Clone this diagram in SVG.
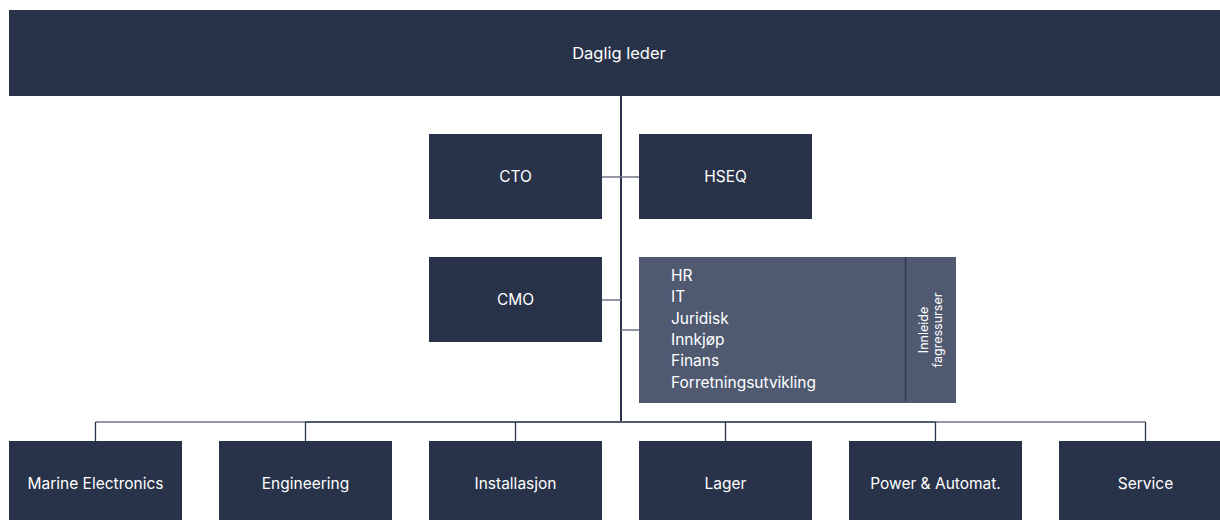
<svg xmlns="http://www.w3.org/2000/svg" width="1220" height="520" viewBox="0 0 1220 520">
<style>
.box{fill:#283249}
.sup{fill:#4f5a71}
.t{font-family:Inter,"Liberation Sans",sans-serif;font-size:15.5px;fill:#ffffff;text-anchor:middle;dominant-baseline:central}
.l{font-family:Inter,"Liberation Sans",sans-serif;font-size:15.5px;fill:#ffffff}
.r{font-family:Inter,"Liberation Sans",sans-serif;font-size:12.5px;fill:#ffffff;text-anchor:middle}
.main{stroke:#283249;stroke-width:2;fill:none}
.br{stroke:#6e7584;stroke-width:1.5;fill:none}
.drop{stroke:#283249;stroke-width:1.3;fill:none}
</style>
<rect width="1220" height="520" fill="#ffffff"/>
<g id="connectors">
<line class="main" x1="621" y1="96" x2="621" y2="421"/>
<line class="br" x1="602" y1="177" x2="639" y2="177"/>
<line class="br" x1="602" y1="300" x2="621" y2="300"/>
<line class="br" x1="621" y1="330" x2="639" y2="330"/>
<line class="br" x1="95.5" y1="422" x2="1145.5" y2="422"/>
<line x1="305.5" y1="422" x2="935.5" y2="422" stroke="#3e4659" stroke-width="1.5"/>
<line class="drop" x1="95.5" y1="422" x2="95.5" y2="441"/>
<line class="drop" x1="305.5" y1="422" x2="305.5" y2="441"/>
<line class="drop" x1="515.5" y1="422" x2="515.5" y2="441"/>
<line class="drop" x1="725.5" y1="422" x2="725.5" y2="441"/>
<line class="drop" x1="935.5" y1="422" x2="935.5" y2="441"/>
<line class="drop" x1="1145.5" y1="422" x2="1145.5" y2="441"/>
</g>
<g id="daglig-leder"><rect class="box" x="9" y="10" width="1220" height="86"/><text class="t" x="619" y="53" style="font-size:16.5px">Daglig leder</text></g>
<g id="cto"><rect class="box" x="429" y="134" width="173" height="85"/><text class="t" x="515.5" y="176.5">CTO</text></g>
<g id="hseq"><rect class="box" x="639" y="134" width="173" height="85"/><text class="t" x="725.5" y="176.5">HSEQ</text></g>
<g id="cmo"><rect class="box" x="429" y="257" width="173" height="85"/><text class="t" x="515.5" y="299.5">CMO</text></g>
<g id="fagressurser">
<rect class="sup" x="639" y="257" width="317" height="146"/>
<line x1="905.5" y1="257" x2="905.5" y2="401" stroke="#2f384d" stroke-width="1.5"/>
<text class="l" x="671" y="281">HR</text>
<text class="l" x="671" y="302.3">IT</text>
<text class="l" x="671" y="323.6">Juridisk</text>
<text class="l" x="671" y="344.9">Innkjøp</text>
<text class="l" x="671" y="366.2">Finans</text>
<text class="l" x="671" y="387.5">Forretningsutvikling</text>
<text class="r" transform="translate(931,330) rotate(-90)"><tspan x="0" y="-3">Innleide</tspan><tspan x="0" y="11">fagressurser</tspan></text>
</g>
<g id="marine-electronics"><rect class="box" x="9" y="441" width="173" height="85"/><text class="t" x="95.5" y="483.5">Marine Electronics</text></g>
<g id="engineering"><rect class="box" x="219" y="441" width="173" height="85"/><text class="t" x="305.5" y="483.5">Engineering</text></g>
<g id="installasjon"><rect class="box" x="429" y="441" width="173" height="85"/><text class="t" x="515.5" y="483.5">Installasjon</text></g>
<g id="lager"><rect class="box" x="639" y="441" width="173" height="85"/><text class="t" x="725.5" y="483.5">Lager</text></g>
<g id="power-automat"><rect class="box" x="849" y="441" width="173" height="85"/><text class="t" x="935.5" y="483.5">Power &amp; Automat.</text></g>
<g id="service"><rect class="box" x="1059" y="441" width="173" height="85"/><text class="t" x="1145.5" y="483.5">Service</text></g>
</svg>
